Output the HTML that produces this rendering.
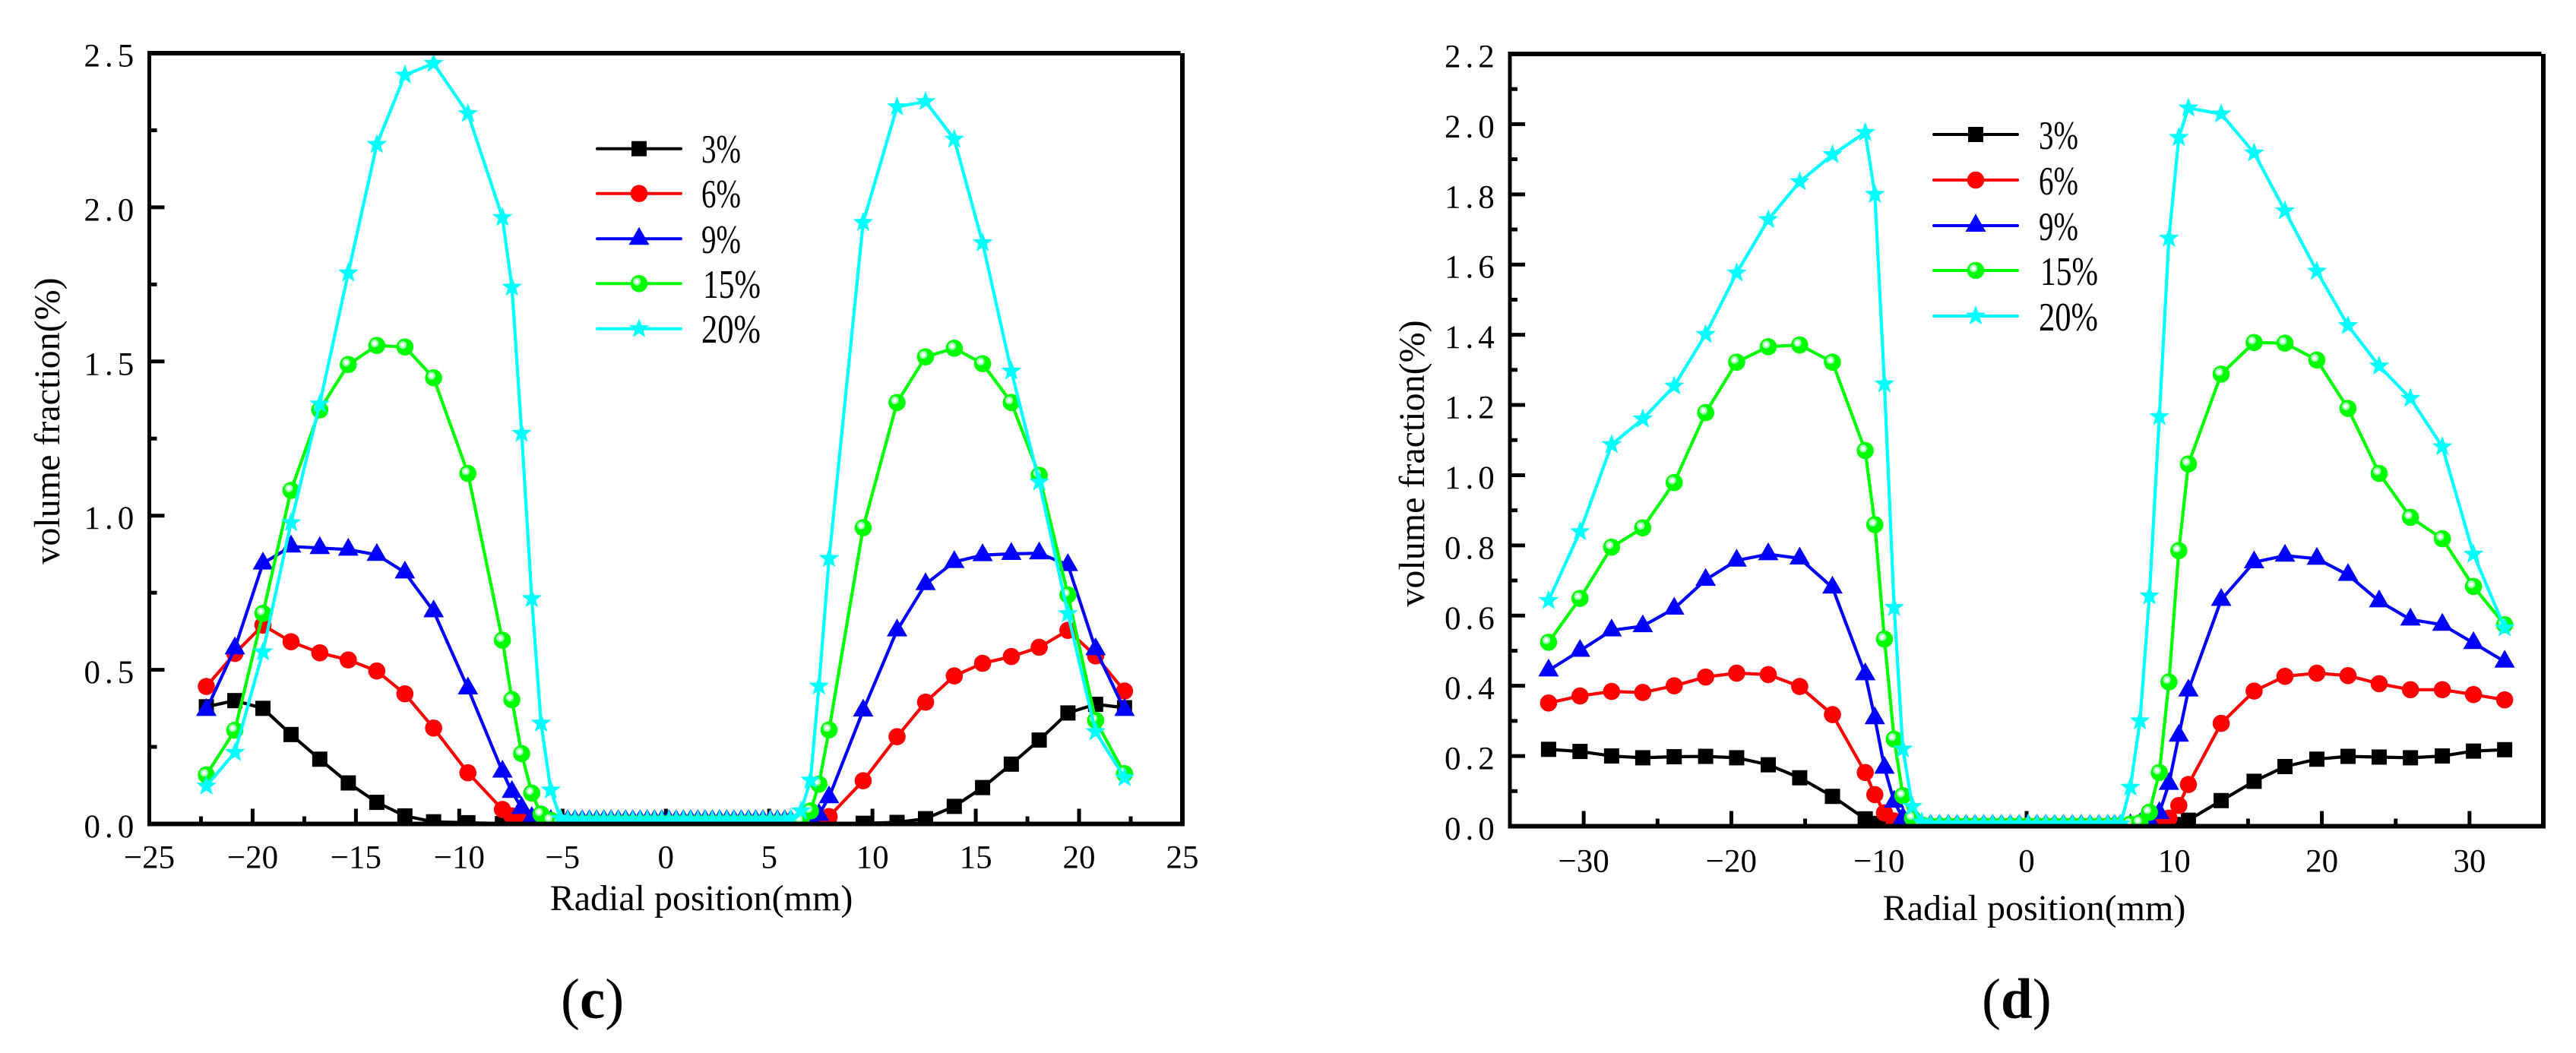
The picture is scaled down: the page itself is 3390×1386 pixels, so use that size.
<!DOCTYPE html>
<html lang="en">
<head>
<meta charset="utf-8">
<title>Volume fraction vs radial position</title>
<style>
html,body{margin:0;padding:0;background:#fff;}
svg{display:block;}
text{font-family:"Liberation Serif",serif;fill:#000;}
.tick-y{font-size:43px;letter-spacing:6px;}
.tick-x{font-size:43px;text-anchor:middle;}
.axis-title{font-size:48px;}
.legend-text{font-size:53px;}
.panel-label{font-size:75px;}
</style>
</head>
<body>
<svg id="fig" xmlns="http://www.w3.org/2000/svg" width="3390" height="1386" viewBox="0 0 3390 1386">
  <rect x="0" y="0" width="3390" height="1386" fill="#fff"/>
  <defs>
    <clipPath id="clip-c"><rect x="196" y="60" width="1360" height="1025"/></clipPath>
    <clipPath id="clip-d"><rect x="1986" y="60" width="1361" height="1028"/></clipPath>
  </defs>

  <g id="chart-c">
    <g id="ticks-c"></g>
    <g id="series-c" clip-path="url(#clip-c)"></g>
    <g id="frame-c"></g>
    <text class="axis-title" x="923" y="1198" text-anchor="middle">Radial position(mm)</text>
    <text class="axis-title" transform="translate(78 554) rotate(-90)" text-anchor="middle">volume fraction(%)</text>
    <g id="legend-c">
      <text class="legend-text" x="923" y="214" textLength="52" lengthAdjust="spacingAndGlyphs">3%</text>
      <text class="legend-text" x="923" y="273" textLength="52" lengthAdjust="spacingAndGlyphs">6%</text>
      <text class="legend-text" x="923" y="333" textLength="52" lengthAdjust="spacingAndGlyphs">9%</text>
      <text class="legend-text" x="925" y="392" textLength="76" lengthAdjust="spacingAndGlyphs">15%</text>
      <text class="legend-text" x="923" y="451" textLength="78" lengthAdjust="spacingAndGlyphs">20%</text>
    </g>
    <text class="panel-label" x="738" y="1340">(<tspan font-weight="bold">c</tspan>)</text>
  </g>

  <g id="chart-d">
    <g id="ticks-d"></g>
    <g id="series-d" clip-path="url(#clip-d)"></g>
    <g id="frame-d"></g>
    <text class="axis-title" x="2677" y="1211" text-anchor="middle">Radial position(mm)</text>
    <text class="axis-title" transform="translate(1874 610) rotate(-90)" text-anchor="middle">volume fraction(%)</text>
    <g id="legend-d">
      <text class="legend-text" x="2683" y="196" textLength="52" lengthAdjust="spacingAndGlyphs">3%</text>
      <text class="legend-text" x="2683" y="256" textLength="52" lengthAdjust="spacingAndGlyphs">6%</text>
      <text class="legend-text" x="2683" y="316" textLength="52" lengthAdjust="spacingAndGlyphs">9%</text>
      <text class="legend-text" x="2685" y="375" textLength="76" lengthAdjust="spacingAndGlyphs">15%</text>
      <text class="legend-text" x="2683" y="435" textLength="78" lengthAdjust="spacingAndGlyphs">20%</text>
    </g>
    <text class="panel-label" x="2608" y="1340">(<tspan font-weight="bold">d</tspan>)</text>
  </g>
</svg>
<script>
// ---- Panel (c) data ----
var cXTickLabels = ['\u221225','\u221220','\u221215','\u221210','\u22125','0','5','10','15','20','25'];
var cXTicks = [-25,-20,-15,-10,-5,0,5,10,15,20,25];
var cXMinorTicks = [-22.5,-17.5,-12.5,-7.5,-2.5,2.5,7.5,12.5,17.5,22.5];
var cYTicks = [0,0.5,1,1.5,2,2.5];
var cYTickLabels = ['0.0','0.5','1.0','1.5','2.0','2.5'];
var cYMinorTicks = [0.25,0.75,1.25,1.75,2.25];
var cPositions = [-22.24,-20.86,-19.5,-18.14,-16.75,-15.37,-13.99,-12.63,-11.24,-9.58,-7.91,-7.45,-6.98,-6.49,-6.04,-5.57,
  -5.1,-4.75,-4.4,-4.05,-3.7,-3.35,-3,-2.65,-2.3,-1.95,-1.6,-1.25,-0.9,-0.55,-0.2,0.15,0.5,0.85,1.2,1.55,1.9,2.25,2.6,2.95,3.3,3.65,4,4.35,4.7,5.05,5.4,5.75,
  6.04,6.54,7,7.41,7.9,9.55,11.19,12.57,13.96,15.33,16.72,18.07,19.46,20.8,22.2];
var c3 = [0.38,0.40,0.375,0.29,0.21,0.133,0.07,0.026,0.007,0.004,0.001,0,0,0,0,0,
  0,0,0,0,0,0,0,0,0,0,0,0,0,0,0,0,0,0,0,0,0,0,0,0,0,0,0,0,0,0,0,0,
  0,0,0,0,0.001,0.002,0.005,0.017,0.057,0.118,0.194,0.272,0.36,0.388,0.377];
var c6 = [0.446,0.553,0.645,0.591,0.555,0.532,0.496,0.422,0.311,0.166,0.047,0.026,0.01,0.005,0.003,0.002,
  0.002,0.002,0.002,0.002,0.002,0.002,0.002,0.002,0.002,0.002,0.002,0.002,0.002,0.002,0.002,0.002,0.002,0.002,0.002,0.002,0.002,0.002,0.002,0.002,0.002,0.002,0.002,0.002,0.002,0.002,0.002,0.002,
  0.002,0.004,0.008,0.012,0.024,0.14,0.283,0.395,0.48,0.521,0.543,0.573,0.628,0.545,0.431];
var c9 = [0.37,0.57,0.845,0.90,0.895,0.89,0.873,0.816,0.69,0.44,0.17,0.104,0.052,0.02,0.01,0.01,
  0.01,0.01,0.01,0.01,0.01,0.01,0.01,0.01,0.01,0.01,0.01,0.01,0.01,0.01,0.01,0.01,0.01,0.01,0.01,0.01,0.01,0.01,0.01,0.01,0.01,0.01,0.01,0.01,0.01,0.01,0.01,0.01,
  0.01,0.012,0.018,0.03,0.087,0.368,0.628,0.778,0.85,0.872,0.876,0.878,0.84,0.567,0.37];
var c15 = [0.159,0.304,0.683,1.082,1.343,1.49,1.552,1.547,1.447,1.137,0.596,0.403,0.228,0.10,0.032,0.012,
  0.002,0.002,0.002,0.002,0.002,0.002,0.002,0.002,0.002,0.002,0.002,0.002,0.002,0.002,0.002,0.002,0.002,0.002,0.002,0.002,0.002,0.002,0.002,0.002,0.002,0.002,0.002,0.002,0.002,0.002,0.002,0.002,
  0.004,0.01,0.042,0.129,0.305,0.961,1.367,1.515,1.543,1.493,1.367,1.131,0.743,0.336,0.163];
var c20 = [0.123,0.232,0.558,0.977,1.362,1.787,2.204,2.429,2.467,2.304,1.967,1.741,1.267,0.731,0.327,0.11,
  0.018,0.013,0.013,0.013,0.013,0.013,0.013,0.013,0.013,0.013,0.013,0.013,0.013,0.013,0.013,0.013,0.013,0.013,0.013,0.013,0.013,0.013,0.013,0.013,0.013,0.013,0.013,0.013,0.013,0.013,0.013,0.013,
  0.016,0.042,0.142,0.447,0.861,1.951,2.326,2.343,2.221,1.885,1.469,1.109,0.682,0.299,0.15];

// ---- Panel (d) data ----
var dXTickLabels = ['\u221230','\u221220','\u221210','0','10','20','30'];
var dXTicks = [-30,-20,-10,0,10,20,30];
var dXMinorTicks = [-25,-15,-5,5,15,25];
var dYTicks = [0,0.2,0.4,0.6,0.8,1,1.2,1.4,1.6,1.8,2,2.2];
var dYTickLabels = ['0.0','0.2','0.4','0.6','0.8','1.0','1.2','1.4','1.6','1.8','2.0','2.2'];
var dYMinorTicks = [0.1,0.3,0.5,0.7,0.9,1.1,1.3,1.5,1.7,1.9,2.1];
var dPositions = [-32.38,-30.25,-28.11,-26,-23.87,-21.74,-19.64,-17.5,-15.37,-13.15,-10.93,-10.28,-9.63,-8.97,-8.38,-7.73,-7.1,
  -6.5,-5.9,-5.3,-4.7,-4.1,-3.5,-2.9,-2.3,-1.7,-1.1,-0.5,0.1,0.7,1.3,1.9,2.5,3.1,3.7,4.3,4.9,5.5,5.95,
  6.36,7.03,7.68,8.32,8.99,9.64,10.31,10.96,13.18,15.41,17.5,19.66,21.77,23.88,26,28.16,30.27,32.38];
var d3 = [0.219,0.213,0.2,0.195,0.198,0.199,0.195,0.175,0.138,0.085,0.021,0.008,0.003,0.001,0,0,0,
  0,0,0,0,0,0,0,0,0,0,0,0,0,0,0,0,0,0,0,0,0,0,
  0,0,0,0,0,0.001,0.005,0.017,0.073,0.128,0.17,0.191,0.199,0.197,0.195,0.2,0.214,0.218];
var d6 = [0.351,0.371,0.384,0.381,0.4,0.425,0.436,0.432,0.398,0.318,0.153,0.09,0.038,0.015,0.006,0.003,0.002,
  0.001,0.001,0.001,0.001,0.001,0.001,0.001,0.001,0.001,0.001,0.001,0.001,0.001,0.001,0.001,0.001,0.001,0.001,0.001,0.001,0.001,0.001,
  0.001,0.002,0.003,0.005,0.01,0.023,0.059,0.119,0.293,0.385,0.427,0.436,0.429,0.406,0.389,0.389,0.375,0.36];
var d9 = [0.444,0.5,0.558,0.57,0.62,0.702,0.757,0.775,0.763,0.68,0.433,0.308,0.167,0.07,0.023,0.008,0.003,
  0.002,0.002,0.002,0.002,0.002,0.002,0.002,0.002,0.002,0.002,0.002,0.002,0.002,0.002,0.002,0.002,0.002,0.002,0.002,0.002,0.002,0.002,
  0.002,0.003,0.006,0.015,0.038,0.121,0.258,0.387,0.645,0.752,0.771,0.762,0.716,0.641,0.589,0.574,0.522,0.469];
var d15 = [0.524,0.649,0.795,0.85,0.979,1.178,1.322,1.366,1.371,1.322,1.07,0.859,0.533,0.248,0.087,0.023,0.004,
  0.001,0.001,0.001,0.001,0.001,0.001,0.001,0.001,0.001,0.001,0.001,0.001,0.001,0.001,0.001,0.001,0.001,0.001,0.001,0.001,0.001,0.001,
  0.002,0.006,0.01,0.04,0.153,0.411,0.785,1.032,1.288,1.378,1.376,1.328,1.19,1.005,0.88,0.819,0.683,0.574];
var d20 = [0.643,0.839,1.087,1.16,1.254,1.401,1.576,1.728,1.836,1.913,1.976,1.8,1.26,0.623,0.22,0.056,0.012,
  0.006,0.006,0.006,0.006,0.006,0.006,0.006,0.006,0.006,0.006,0.006,0.006,0.006,0.006,0.006,0.006,0.006,0.006,0.006,0.006,0.006,0.006,
  0.006,0.111,0.3,0.656,1.167,1.675,1.962,2.046,2.029,1.918,1.753,1.581,1.426,1.311,1.219,1.081,0.775,0.565];

var seriesLabels = ['3','6','9','15','20'];
var seriesColors = ['#000000','#ff0000','#0000ff','#00ff00','#00ffff'];
var seriesShapes = ['square','circle','triangle','ball','star'];
var SVGNS = 'http://www.w3.org/2000/svg';

function mk(tag, attrs, parent) {
  var el = document.createElementNS(SVGNS, tag);
  for (var k in attrs) { el.setAttribute(k, attrs[k]); }
  parent.appendChild(el);
  return el;
}

function drawMarker(parent, shape, color, x, y) {
  var g = mk('g', {}, parent);
  
  
  if (shape === 'square') {
    mk('rect', {x: x - 10, y: y - 10, width: 20, height: 20, fill: color}, g);
  } else if (shape === 'circle') {
    mk('circle', {cx: x, cy: y, r: 11.3, fill: color}, g);
  } else if (shape === 'triangle') {
    mk('polygon', {points: (x) + ',' + (y - 15.5) + ' ' + (x + 13.5) + ',' + (y + 8) + ' ' + (x - 13.5) + ',' + (y + 8), fill: color}, g);
  } else if (shape === 'ball') {
    mk('circle', {cx: x, cy: y, r: 11.3, fill: color}, g);
    mk('circle', {cx: x - 2.8, cy: y - 2.8, r: 5.2, fill: '#9dffb0'}, g);
    mk('circle', {cx: x - 2.8, cy: y - 2.8, r: 2.6, fill: '#ffffff'}, g);
  } else {
    var pts = [];
    for (var i = 0; i < 10; i++) {
      var r = i % 2 === 0 ? 14 : 5.8;
      var a = -Math.PI / 2 + i * Math.PI / 5;
      pts.push((x + r * Math.cos(a)).toFixed(1) + ',' + (y + r * Math.sin(a)).toFixed(1));
    }
    mk('polygon', {points: pts.join(' '), fill: color}, g);
  }
}

function drawChart(id, box, xDom, yDom, xTicks, xTickLabels, xMinor, yTicks, yTickLabels, yMinor, xs, allSeries, labels) {
  var sx = function (v) { return box.left + (v - xDom[0]) / (xDom[1] - xDom[0]) * (box.right - box.left); };
  var sy = function (v) { return box.bottom - (v - yDom[0]) / (yDom[1] - yDom[0]) * (box.bottom - box.top); };
  var ticks = document.getElementById('ticks-' + id);
  var i, el;

  for (i = 0; i < xTicks.length; i++) {
    el = mk('line', {x1: sx(xTicks[i]), x2: sx(xTicks[i]), y1: box.bottom, y2: box.bottom - 20, stroke: '#000', 'stroke-width': 5}, ticks);
    
    
    el = mk('text', {'class': 'tick-x', x: sx(xTicks[i]), y: box.bottom + labels.xBase}, ticks);
    el.textContent = xTickLabels[i];
    
    
  }
  for (i = 0; i < xMinor.length; i++) {
    el = mk('line', {x1: sx(xMinor[i]), x2: sx(xMinor[i]), y1: box.bottom, y2: box.bottom - 10, stroke: '#000', 'stroke-width': 5}, ticks);
    
    
  }
  for (i = 0; i < yTicks.length; i++) {
    el = mk('line', {x1: box.left, x2: box.left + 20, y1: sy(yTicks[i]), y2: sy(yTicks[i]), stroke: '#000', 'stroke-width': 5}, ticks);
    
    
    el = mk('text', {'class': 'tick-y', x: box.left - 86, y: sy(yTicks[i]) + 17.5}, ticks);
    el.textContent = yTickLabels[i];
    
    
  }
  for (i = 0; i < yMinor.length; i++) {
    el = mk('line', {x1: box.left, x2: box.left + 10, y1: sy(yMinor[i]), y2: sy(yMinor[i]), stroke: '#000', 'stroke-width': 5}, ticks);
    
    
  }

  var host = document.getElementById('series-' + id);
  allSeries.forEach(function (vals, s) {
    var g = mk('g', {}, host);
    
    
    var pts = vals.map(function (v, j) { return sx(xs[j]).toFixed(1) + ',' + sy(v).toFixed(1); }).join(' ');
    var line = mk('polyline', {points: pts, fill: 'none', stroke: seriesColors[s], 'stroke-width': 4.2, 'stroke-linejoin': 'round'}, g);
    
    
    vals.forEach(function (v, j) { drawMarker(g, seriesShapes[s], seriesColors[s], sx(xs[j]), sy(v)); });
  });

  var frame = document.getElementById('frame-' + id);
  mk('rect', {x: box.left - 2.5, y: box.top - 3, width: 5, height: box.bottom - box.top + 6, fill: '#000'}, frame);
  mk('rect', {x: box.left - 2.5, y: box.top - 3, width: box.right - box.left, height: 6, fill: '#000'}, frame);
  mk('rect', {x: box.right - 3, y: box.top, width: 6, height: box.bottom - box.top + 3, fill: '#000'}, frame);
  mk('rect', {x: box.left - 2.5, y: box.bottom - 3, width: box.right - box.left + 5.5, height: 6, fill: '#000'}, frame);

  var legend = document.getElementById('legend-' + id);
  labels.legendY.forEach(function (ly, s) {
    var g = mk('g', {}, legend);
    
    
    mk('line', {x1: labels.legendX[0], x2: labels.legendX[1], y1: ly, y2: ly, stroke: seriesColors[s], 'stroke-width': 4, 'stroke-linecap': 'round'}, g);
    drawMarker(g, seriesShapes[s], seriesColors[s], (labels.legendX[0] + labels.legendX[1]) / 2, ly);
  });
}

drawChart('c', {left: 196.5, right: 1556, top: 70, bottom: 1084.5}, [-25, 25], [0, 2.5],
  cXTicks, cXTickLabels, cXMinorTicks, cYTicks, cYTickLabels, cYMinorTicks, cPositions,
  [c3, c6, c9, c15, c20], {xBase: 58, legendX: [786, 896], legendY: [195.7, 254.7, 314.3, 373.3, 432.7]});

drawChart('d', {left: 1987, right: 3347, top: 71, bottom: 1087.5}, [-35, 35], [0, 2.2],
  dXTicks, dXTickLabels, dXMinorTicks, dYTicks, dYTickLabels, dYMinorTicks, dPositions,
  [d3, d6, d9, d15, d20], {xBase: 60, legendX: [2545, 2655], legendY: [177, 237, 297, 356, 416]});
</script>
</body>
</html>
